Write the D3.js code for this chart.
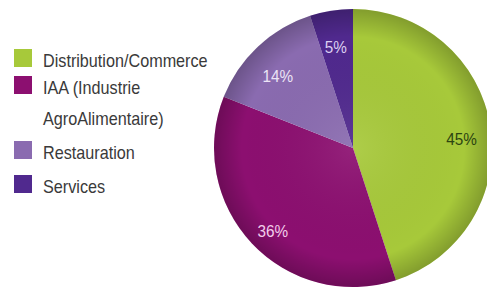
<!DOCTYPE html>
<html>
<head>
<meta charset="utf-8">
<script src="https://cdn.jsdelivr.net/npm/d3@7"></script>
<style>
  body { margin: 0; background: #fff; }
  svg { display: block; }
</style>
</head>
<body>
<script>
// data
const sectors = ["Distribution/Commerce", "IAA (Industrie AgroAlimentaire)", "Restauration", "Services"];
const shares = [45, 36, 14, 5];
const legendLines = [["Distribution/Commerce"], ["IAA (Industrie", "AgroAlimentaire)"], ["Restauration"], ["Services"]];

const width = 487, height = 290;
const cx = 353, cy = 148, radius = 139;
const font = "'Liberation Sans', Arial, sans-serif";
const squeeze = 0.9; // the original uses a condensed face

const fills = ["#a7c93a", "#8c0f70", "#8a6bb0", "#50298e"];
const labelFills = ["#2c4411", "#f2cdea", "#ece4f6", "#dcd0f2"];

const svg = d3.select("body").append("svg")
    .attr("width", width)
    .attr("height", height);

// soft rim shading, like the 3d look of the original
const defs = svg.append("defs");
const shade = defs.append("radialGradient")
    .attr("id", "rim")
    .attr("cx", "50%").attr("cy", "50%").attr("r", "50%");
shade.append("stop").attr("offset", "0%").attr("stop-color", "#fff").attr("stop-opacity", 0.08);
shade.append("stop").attr("offset", "80%").attr("stop-color", "#000").attr("stop-opacity", 0);
shade.append("stop").attr("offset", "100%").attr("stop-color", "#000").attr("stop-opacity", 0.22);

const pie = d3.pie().sort(null).value(d => d);
const arc = d3.arc().innerRadius(0).outerRadius(radius);
const labelArc = d3.arc().innerRadius(110).outerRadius(110);

const g = svg.append("g").attr("transform", `translate(${cx},${cy})`);

const arcs = pie(shares);

g.selectAll("path.slice")
    .data(arcs)
    .enter().append("path")
    .attr("class", "slice")
    .attr("d", arc)
    .attr("fill", (d, i) => fills[i]);

g.append("circle")
    .attr("r", radius)
    .attr("fill", "url(#rim)");

g.selectAll("text.pct")
    .data(arcs)
    .enter().append("text")
    .attr("class", "pct")
    .attr("transform", d => {
        const [x, y] = labelArc.centroid(d);
        return `translate(${x},${y + 8}) scale(${squeeze},1)`;
    })
    .attr("text-anchor", "middle")
    .attr("dy", "0.35em")
    .attr("font-family", font)
    .attr("font-size", 17)
    .attr("fill", (d, i) => labelFills[i])
    .text(d => d.data + "%");

// legend
const rowY = [61, 88, 153, 187];
const legend = svg.append("g");
legendLines.forEach((lines, i) => {
    legend.append("rect")
        .attr("x", 14)
        .attr("y", rowY[i] - 12)
        .attr("width", 18)
        .attr("height", 18)
        .attr("fill", fills[i]);
    lines.forEach((t, j) => {
        legend.append("text")
            .attr("transform", `translate(43,${rowY[i] + j * 31}) scale(${squeeze},1)`)
            .attr("dy", "0.35em")
            .attr("font-family", font)
            .attr("font-size", 18)
            .attr("fill", "#3a3a3a")
            .text(t);
    });
});
</script>
</body>
</html>
